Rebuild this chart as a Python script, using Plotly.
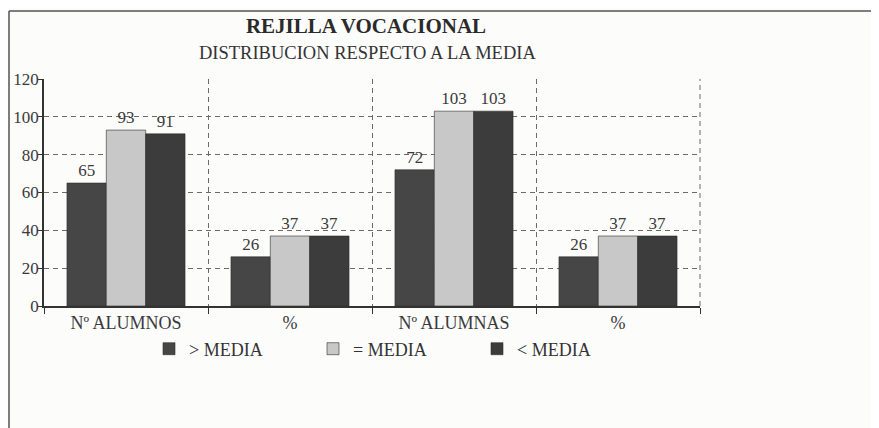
import plotly.graph_objects as go

categories = ["Nº ALUMNOS", "%", "Nº ALUMNAS", "%%"]
tick_labels = ["Nº ALUMNOS", "%", "Nº ALUMNAS", "%"]
series_names = ["> MEDIA", "= MEDIA", "< MEDIA"]
mayor_media = [65, 26, 72, 26]
igual_media = [93, 37, 103, 37]
menor_media = [91, 37, 103, 37]
colors = ["#464646", "#c8c8c8", "#3c3c3c"]

# page body has an 8px margin, so the figure is sized/offset to compensate
W, H = 871, 420
L, T = 36, 71
pw, ph = 656, 227
R = W - L - pw
B = H - T - ph

serif = "Liberation Serif, Times New Roman, serif"


def px(x):
    return (x - L) / pw


def py(y):
    return 1 - (y - T) / ph


fig = go.Figure()
for name, vals, col in zip(series_names, [mayor_media, igual_media, menor_media], colors):
    fig.add_trace(go.Bar(
        x=categories, y=vals, name=name,
        marker=dict(color=col, line=dict(color="#2e2e2e", width=0.6)),
        text=[str(v) for v in vals], textposition="outside",
        textfont=dict(family=serif, size=17, color="#3a3a3a"),
        cliponaxis=False,
    ))

fig.update_layout(
    width=W, height=H,
    margin=dict(l=L, r=R, t=T, b=B, autoexpand=False),
    paper_bgcolor="#fcfcfb", plot_bgcolor="rgba(0,0,0,0)",
    barmode="group", bargap=0.28, bargroupgap=0,
    font=dict(family=serif, size=17, color="#333"),
    title=dict(text="<b>REJILLA VOCACIONAL</b>", x=358 / W, xanchor="center",
               y=1 - 18 / H, yanchor="middle",
               font=dict(family=serif, size=21, color="#2a2a2a")),
    showlegend=True,
    legend=dict(orientation="h", x=px(141), xanchor="left",
                y=py(341), yanchor="middle",
                font=dict(family=serif, size=18, color="#333"),
                entrywidth=119, entrywidthmode="pixels",
                bgcolor="rgba(0,0,0,0)", traceorder="normal"),
    xaxis=dict(
        type="category", tickson="boundaries", automargin=False,
        tickvals=categories, ticktext=tick_labels,
        showgrid=True, gridcolor="#6a6a6a", griddash="5px,4px", gridwidth=1,
        showline=True, linecolor="#333", linewidth=1.5,
        ticks="outside", ticklen=6, tickcolor="#333",
        tickfont=dict(family=serif, size=18, color="#3a3a3a"),
        range=[-0.5, 3.5], zeroline=False,
    ),
    yaxis=dict(
        range=[0, 120], dtick=20, tick0=0, automargin=False,
        showgrid=True, gridcolor="#6a6a6a", griddash="5px,4px", gridwidth=1,
        showline=True, linecolor="#333", linewidth=1.5,
        ticks="outside", ticklen=4, tickcolor="#333",
        ticklabelstandoff=-4,
        tickfont=dict(family=serif, size=17, color="#3a3a3a"),
        zeroline=False,
    ),
    annotations=[dict(
        text="DISTRIBUCION RESPECTO A LA MEDIA", xref="paper", yref="paper",
        x=px(359), y=py(45), xanchor="center", yanchor="middle",
        showarrow=False, font=dict(family=serif, size=18.5, color="#333"),
    )],
    shapes=[
        dict(type="line", xref="paper", yref="paper",
             x0=px(1), x1=px(1), y0=py(H), y1=py(3),
             line=dict(color="#555", width=1.5)),
        dict(type="line", xref="paper", yref="paper",
             x0=px(1), x1=px(W), y0=py(3), y1=py(3),
             line=dict(color="#555", width=1.5)),
        dict(type="line", xref="paper", yref="paper",
             x0=1, x1=1, y0=0, y1=1,
             line=dict(color="#6a6a6a", width=1, dash="5px,4px")),
    ],
)

fig.write_html("out.html")
